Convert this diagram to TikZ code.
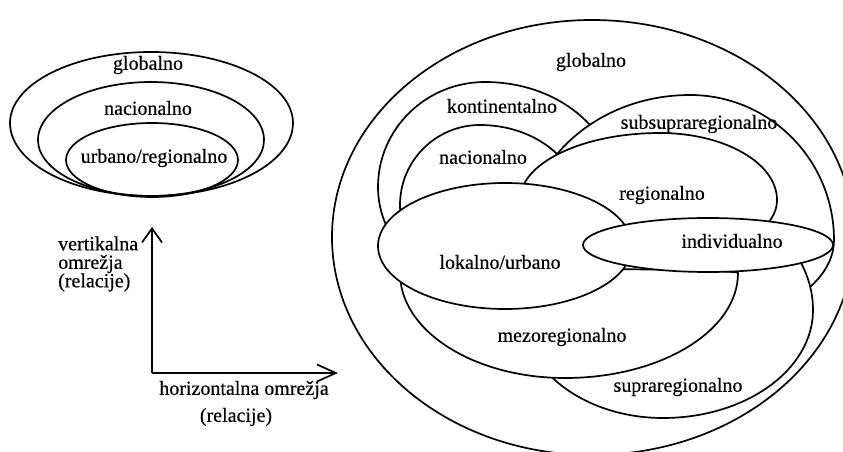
\documentclass[tikz,border=0pt]{standalone}
\usepackage{fontspec}
\setmainfont{Liberation Serif}[FakeBold=0.4]
\usetikzlibrary{arrows.meta}
% egg-shaped closed curve: #1 options, #2 cx, #3 cy, #4 left radius, #5 right radius, #6 top radius, #7 bottom radius (y grows downwards)
\newcommand{\eggshape}[7]{%
\path[#1] ({#2-#4},#3)
 .. controls ({#2-#4},{#3-0.5523*#6}) and ({#2-0.5523*#4},{#3-#6}) .. (#2,{#3-#6})
 .. controls ({#2+0.5523*#5},{#3-#6}) and ({#2+#5},{#3-0.5523*#6}) .. ({#2+#5},#3)
 .. controls ({#2+#5},{#3+0.5523*#7}) and ({#2+0.5523*#5},{#3+#7}) .. (#2,{#3+#7})
 .. controls ({#2-0.5523*#4},{#3+#7}) and ({#2-#4},{#3+0.5523*#7}) .. ({#2-#4},#3) -- cycle;}
\begin{document}
\begin{tikzpicture}[x=1pt,y=-1pt,
  lbl/.style={font=\fontsize{20}{24}\selectfont, inner sep=0pt, text=black},
  shp/.style={draw=black, fill=white, line width=1.7pt},
  ring/.style={draw=black, line width=1.7pt},
  axis/.style={draw=black, line width=1.7pt}]
\useasboundingbox (0,0) rectangle (843,452);
\fill[white] (0,0) rectangle (843,452);
\begin{scope}
\clip (0,0) rectangle (843,452);
% ---------- left: nested ellipses ----------
\eggshape{ring}{151}{123}{141}{142}{71}{73}
\eggshape{ring}{151}{140}{113}{113}{58}{56}
\eggshape{ring}{152}{160}{86}{86}{37}{37}
\node[lbl] (lglob) at (148,65) {globalno};
\node[lbl] (lnac) at (148,108) {nacionalno};
\node[lbl] (lurb) at (154,158) {urbano/regionalno};
% ---------- axes ----------
\coordinate (O) at (152,373);
\coordinate (vtip) at (152,227);
\coordinate (htip) at (338,373);
\draw[axis, -{Straight Barb[length=14pt,width=20pt]}] (O) -- (vtip);
\draw[axis, -{Straight Barb[length=19pt,width=17pt]}] (O) -- (htip);
\node[lbl, align=left, anchor=west, font=\fontsize{20}{18.5}\selectfont] (vlab) at (58,264) {vertikalna\\omrežja\\(relacije)};
\node[lbl] (hlab) at (244,390) {horizontalna omrežja};
\node[lbl] (hlab2) at (236,417) {(relacije)};
% ---------- right: overlapping regions ----------
\eggshape{shp}{592}{237}{260}{262}{217}{218}   % globalno
\eggshape{shp}{485}{187}{107}{130}{105}{100}   % kontinentalno
\eggshape{shp}{480}{205}{80}{100}{80}{75}      % nacionalno
\eggshape{shp}{690}{240}{165}{144}{145}{85}    % subsupraregionalno
\eggshape{shp}{663}{310}{142}{150}{120}{108}   % supraregionalno
\eggshape{shp}{660}{200}{140}{117}{67}{60}     % regionalno
\eggshape{shp}{565}{273}{165}{173}{4}{105}     % mezoregionalno
\eggshape{shp}{505}{246}{127}{127}{63}{63}     % lokalno/urbano
\eggshape{shp}{708}{245}{125}{125}{27}{27}     % individualno
\end{scope}
\node[lbl] (rglob) at (591,62) {globalno};
\node[lbl] (rkont) at (502,106) {kontinentalno};
\node[lbl] (rsubs) at (699,124) {subsupraregionalno};
\node[lbl] (rnac) at (483,157) {nacionalno};
\node[lbl] (rreg) at (662,195) {regionalno};
\node[lbl] (rind) at (732,241) {individualno};
\node[lbl] (rlok) at (500,262) {lokalno/urbano};
\node[lbl] (rmez) at (562,337) {mezoregionalno};
\node[lbl] (rsup) at (678,387) {supraregionalno};
\end{tikzpicture}
\end{document}
